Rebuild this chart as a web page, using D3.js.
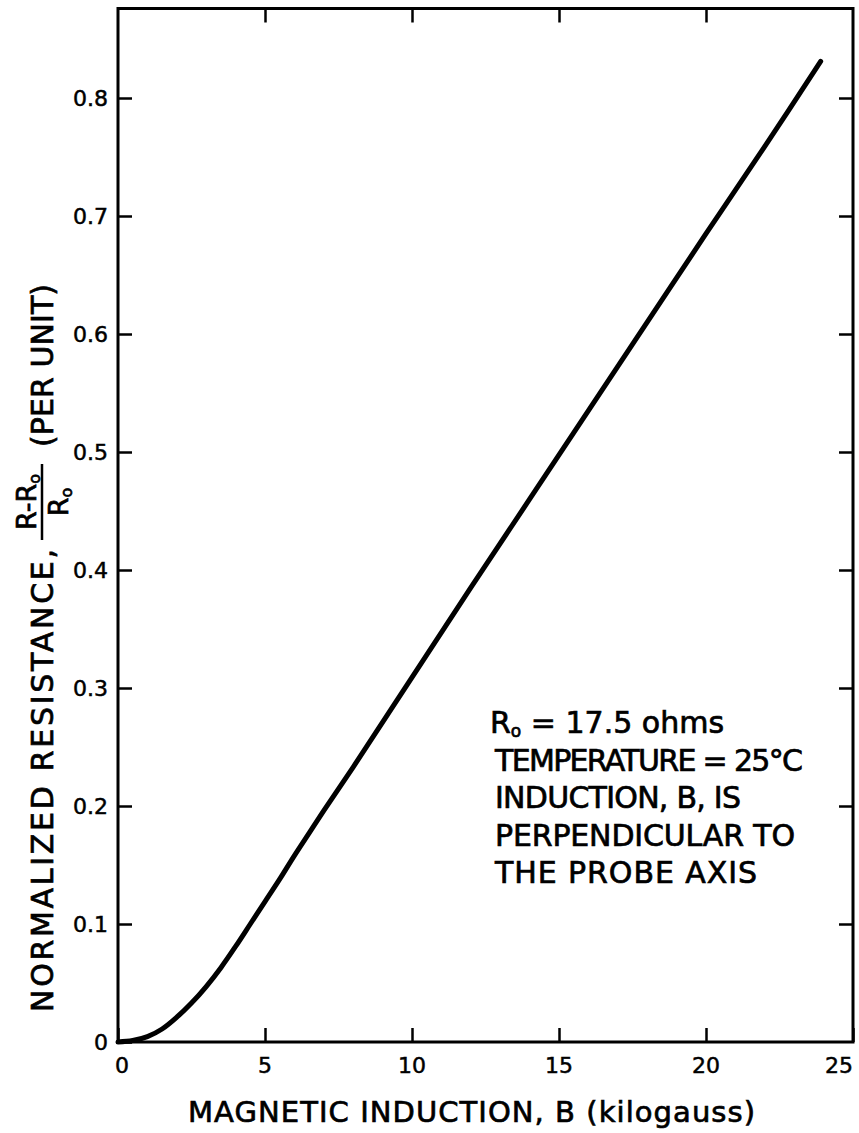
<!DOCTYPE html>
<html><head><meta charset="utf-8">
<script src="https://cdn.jsdelivr.net/npm/d3@7"></script>
<style>
body{margin:0;background:#fff}
svg{display:block;background:#fff}
text{font-family:"DejaVu Sans",sans-serif;fill:#000}
.lbl{stroke:#000;stroke-width:0.7px}
.tl{stroke:#000;stroke-width:0.5px}
</style>
</head><body>
<svg id="chart" width="859" height="1133"></svg>
<script>
// ---- data ----
const inductionKG = [0, 0.5, 1, 1.5, 2, 2.5, 3, 3.5, 4, 4.5, 5, 5.5, 6, 6.5, 7, 8, 10, 12, 14, 16, 18, 20, 22, 23.9];
const normResistance = [0, 0.0012, 0.0045, 0.011, 0.021, 0.033, 0.047, 0.063, 0.081, 0.100, 0.119, 0.138, 0.158, 0.177, 0.196, 0.233, 0.309, 0.385, 0.460, 0.535, 0.610, 0.685, 0.759, 0.831];
const xTickValues = [0, 5, 10, 15, 20, 25];
const xTickLabels = ["0", "5", "10", "15", "20", "25"];
const yTickValues = [0, 0.1, 0.2, 0.3, 0.4, 0.5, 0.6, 0.7, 0.8];
const yTickLabels = ["0", "0.1", "0.2", "0.3", "0.4", "0.5", "0.6", "0.7", "0.8"];
const xTitle = "MAGNETIC INDUCTION, B (kilogauss)";
const yTitleMain = "NORMALIZED RESISTANCE,";
const yTitleUnit = "(PER UNIT)";
const noteFirst = ["R", "o", " = 17.5 ohms"];
const noteLines = ["TEMPERATURE = 25°C", "INDUCTION, B, IS", "PERPENDICULAR TO", "THE PROBE AXIS"];

// ---- layout ----
(function () {
const svg = d3.select("#chart");
const pLeft = 118, pRight = 853, pBottom = 1042, pTop = 8.5;
const x = d3.scaleLinear().domain([0, 25]).range([pLeft, pRight]);
const y = d3.scaleLinear().domain([0, 0.8]).range([pBottom, 98]);

// frame
svg.append("rect").attr("x", pLeft).attr("y", pTop)
  .attr("width", pRight - pLeft).attr("height", pBottom - pTop)
  .attr("fill", "none").attr("stroke", "#000").attr("stroke-width", 3);

function styleAxis(g) {
  g.select(".domain").remove();
  g.selectAll(".tick line").attr("stroke", "#000").attr("stroke-width", 2.5);
  g.selectAll(".tick text").remove();
}

// inward ticks on all four sides
const gx = svg.append("g").attr("transform", `translate(0,${pBottom})`)
  .call(d3.axisBottom(x).tickValues(xTickValues).tickFormat("").tickSize(-14).tickSizeOuter(0));
styleAxis(gx);
const gy = svg.append("g").attr("transform", `translate(${pLeft},0)`)
  .call(d3.axisLeft(y).tickValues(yTickValues).tickFormat("").tickSize(-14).tickSizeOuter(0));
styleAxis(gy);
const gt = svg.append("g").attr("transform", `translate(0,${pTop})`)
  .call(d3.axisTop(x).tickValues(xTickValues.slice(1, -1)).tickFormat("").tickSize(-14).tickSizeOuter(0));
styleAxis(gt);
const gr = svg.append("g").attr("transform", `translate(${pRight},0)`)
  .call(d3.axisRight(y).tickValues(yTickValues.slice(1)).tickFormat("").tickSize(-14).tickSizeOuter(0));
styleAxis(gr);

// tick labels placed via the scales
const last = xTickValues.length - 1;
svg.append("g").selectAll("text").data(xTickValues).join("text")
  .attr("class", "tl").attr("font-size", 22)
  .attr("x", (d, i) => i === last ? x(d) : x(d) + (i === 0 ? 4 : 0))
  .attr("y", pBottom + 31)
  .attr("text-anchor", (d, i) => i === last ? "end" : "middle")
  .text((d, i) => xTickLabels[i]);
svg.append("g").selectAll("text").data(yTickValues).join("text")
  .attr("class", "tl").attr("font-size", 22)
  .attr("x", pLeft - 10).attr("y", d => y(d) + 8)
  .attr("text-anchor", "end")
  .text((d, i) => yTickLabels[i]);

// curve
const pts = inductionKG.map((b, i) => [b, normResistance[i]]);
svg.append("path").datum(pts)
  .attr("fill", "none").attr("stroke", "#000").attr("stroke-width", 5)
  .attr("stroke-linecap", "round").attr("stroke-linejoin", "round")
  .attr("d", d3.line().x(d => x(d[0])).y(d => y(d[1])).curve(d3.curveCatmullRom.alpha(0.5)));

// x title
svg.append("text").attr("class", "lbl").attr("x", 188).attr("y", 1122).attr("font-size", 29)
  .attr("textLength", 567).attr("lengthAdjust", "spacing").text(xTitle);

// y title (rotated)
const yt = svg.append("g").attr("transform", "rotate(-90)");
yt.append("text").attr("class", "lbl").attr("x", -1012).attr("y", 53).attr("font-size", 30)
  .attr("textLength", 463).attr("lengthAdjust", "spacing").text(yTitleMain);
yt.append("text").attr("class", "lbl").attr("x", -447).attr("y", 53).attr("font-size", 30)
  .attr("textLength", 163).attr("lengthAdjust", "spacing").text(yTitleUnit);
const num = yt.append("text").attr("class", "lbl").attr("x", -502).attr("y", 36).attr("font-size", 27).attr("text-anchor", "middle");
num.append("tspan").text("R-R");
num.append("tspan").attr("font-size", 16).attr("dy", 4).text("o");
yt.append("line").attr("x1", -540).attr("x2", -464).attr("y1", 42).attr("y2", 42)
  .attr("stroke", "#000").attr("stroke-width", 2.5);
const den = yt.append("text").attr("class", "lbl").attr("x", -502).attr("y", 68).attr("font-size", 27).attr("text-anchor", "middle");
den.append("tspan").text("R");
den.append("tspan").attr("font-size", 16).attr("dy", 4).text("o");

// annotation
const noteX = 495, noteY0 = 733, noteStep = 37.6;
const noteLens = [308, 246, 300, 262];
const first = svg.append("text").attr("class", "lbl").attr("x", 490).attr("y", noteY0).attr("font-size", 30);
first.append("tspan").text(noteFirst[0]);
first.append("tspan").attr("font-size", 17).attr("dy", 4).text(noteFirst[1]);
first.append("tspan").attr("dy", -4).text(noteFirst[2]);
noteLines.forEach((t, i) => {
  svg.append("text").attr("class", "lbl").attr("x", noteX).attr("y", noteY0 + noteStep * (i + 1)).attr("font-size", 30)
    .attr("textLength", noteLens[i]).attr("lengthAdjust", "spacing").text(t);
});
})();
</script>
</body></html>
